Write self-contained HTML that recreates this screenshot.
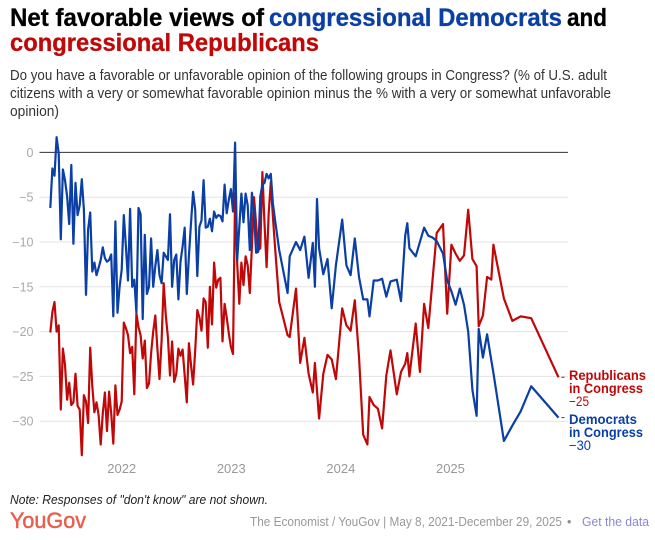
<!DOCTYPE html>
<html lang="en">
<head>
<meta charset="utf-8">
<title>Net favorable views of congressional Democrats and congressional Republicans</title>
<style>
html,body{margin:0;padding:0;background:#fff;width:655px;height:540px;overflow:hidden}
svg{display:block}
text{font-family:"Liberation Sans",sans-serif}
</style>
</head>
<body>
<svg id="chart" xmlns="http://www.w3.org/2000/svg" width="655" height="540" viewBox="0 0 655 540">
  <rect x="0" y="0" width="655" height="540" fill="#ffffff"/>
  <g font-size="25" font-weight="700" stroke-width="0.3">
    <text x="10" y="26" fill="#000" stroke="#000" textLength="254" lengthAdjust="spacingAndGlyphs">Net favorable views of</text>
    <text x="269" y="26" fill="#0a3fa6" stroke="#0a3fa6" textLength="293" lengthAdjust="spacingAndGlyphs">congressional Democrats</text>
    <text x="567" y="26" fill="#000" stroke="#000" textLength="40" lengthAdjust="spacingAndGlyphs">and</text>
    <text x="10" y="51" fill="#c00808" stroke="#c00808" textLength="309" lengthAdjust="spacingAndGlyphs">congressional Republicans</text>
  </g>
  <g font-size="15" fill="#333">
    <text x="10" y="80" textLength="597" lengthAdjust="spacingAndGlyphs">Do you have a favorable or unfavorable opinion of the following groups in Congress? (% of U.S. adult</text>
    <text x="10" y="98" textLength="601" lengthAdjust="spacingAndGlyphs">citizens with a very or somewhat favorable opinion minus the % with a very or somewhat unfavorable</text>
    <text x="10" y="116" textLength="49" lengthAdjust="spacingAndGlyphs">opinion)</text>
  </g>
  <g id="grid"></g>
  <g id="yticks" font-size="12.5" fill="#aaaaaa" text-anchor="end"></g>
  <g id="xticks" font-size="13" fill="#999999" text-anchor="middle"></g>
  <g id="series"></g>
  <g fill="#c00808" font-size="13.5">
    <text x="569" y="380" font-weight="700" textLength="77" lengthAdjust="spacingAndGlyphs">Republicans</text>
    <text x="569" y="393" font-weight="700" textLength="74" lengthAdjust="spacingAndGlyphs">in Congress</text>
    <text x="569" y="406" textLength="20" lengthAdjust="spacingAndGlyphs">−25</text>
  </g>
  <g fill="#0a3fa6" font-size="13.5">
    <text x="569" y="424" font-weight="700" textLength="68" lengthAdjust="spacingAndGlyphs">Democrats</text>
    <text x="569" y="437" font-weight="700" textLength="74" lengthAdjust="spacingAndGlyphs">in Congress</text>
    <text x="569" y="450" textLength="22" lengthAdjust="spacingAndGlyphs">−30</text>
  </g>
  <text x="10" y="504" font-size="12.5" font-style="italic" fill="#222" textLength="258" lengthAdjust="spacingAndGlyphs">Note: Responses of "don't know" are not shown.</text>
  <text x="10" y="528" font-size="22" font-weight="400" stroke="#e8604c" stroke-width="0.5" fill="#e8604c" textLength="76" lengthAdjust="spacingAndGlyphs">YouGov</text>
  <text x="250" y="526" font-size="12.5" fill="#999999" textLength="312" lengthAdjust="spacingAndGlyphs">The Economist / YouGov | May 8, 2021-December 29, 2025</text>
  <text x="567" y="526" font-size="12.5" fill="#8a8aa8">•</text>
  <text x="582" y="526" font-size="12.5" fill="#8b86d6" textLength="67" lengthAdjust="spacingAndGlyphs">Get the data</text>
</svg>
<script>
const yTicks = [0, -5, -10, -15, -20, -25, -30];
const yTickLabels = ["0", "−5", "−10", "−15", "−20", "−25", "−30"];
const xTickYears = [2022, 2023, 2024, 2025];
const surveyWeeks = [
  0,1,2,3,4,5,6,7,8,9,10,11,12,13,14,15,16,17,18,19,
  20,21,22,23,24,25,26,27,28,29,30,31,32,33,34,35,36,37,38,39,
  40,41,42,43,44,45,46,47,48,49,50,51,52,53,54,55,56,57,58,59,
  60,61,62,63,64,65,66,67,68,69,70,71,72,73,74,75,76,77,78,79,
  80,81,82,83,84,85,86,87,88,89,90,91,92,93,94,95,96,97,98,99,
  100,101,102,103,104,105,106,107,
  109,113,114,117,119,121,123,125,126,127,128,130,132,134,136,139,141,143,145,147,
  149,151,152,154,156,158,160,162,165,167,169,170,171,174,176,178,180,182,184,187,
  189,191,193,195,197,199,201,203,204,206,208,210,211,216,220,224,229,242
];
const democrats = [
  -6.2,-1.8,-2.6,1.7,-0.1,-9.7,-1.9,-3.1,-4.9,-8.0,-1.4,-10.2,-3.4,-7.0,-5.9,-3.0,-6.4,-15.9,-8.6,-6.7,
  -13.3,-12.3,-13.7,-12.9,-12.0,-10.6,-11.8,-12.2,-12.0,-11.4,-18.3,-7.7,-17.9,-15.0,-13.1,-7.0,-10.5,-14.3,-6.3,-15.0,
  -14.2,-17.9,-6.2,-6.9,-18.6,-9.2,-15.8,-15.0,-9.6,-15.0,-12.7,-10.9,-13.7,-14.6,-11.2,-11.6,-12.0,-6.9,-15.0,-12.0,
  -11.4,-16.4,-12.2,-10.5,-8.4,-15.8,-11.6,-7.9,-4.4,-6.4,-13.8,-8.3,-7.6,-3.1,-8.4,-8.3,-7.4,-8.8,-6.6,-7.3,
  -7.0,-7.1,-7.7,-3.6,-6.8,-5.3,-4.1,-6.6,1.1,-12.0,-8.3,-4.6,-7.8,-4.6,-5.9,-10.9,-4.5,-6.8,-11.2,-11.1,
  -4.9,-3.6,-3.4,-2.4,-2.9,-2.4,-5.7,-7.5,
  -10.9,-15.7,-11.6,-10.0,-10.9,-9.4,-14.0,-10.1,-15.0,-5.2,-10.7,-13.6,-11.9,-17.4,-12.6,-7.5,-12.6,-13.7,-9.6,-13.9,
  -16.4,-16.4,-18.3,-14.3,-14.3,-14.1,-16.1,-14.4,-14.2,-16.6,-9.3,-7.9,-10.7,-11.6,-10.0,-8.4,-9.3,-9.5,-9.9,-11.3,
  -14.3,-15.5,-17.0,-15.2,-17.0,-20.0,-26.5,-29.4,-19.7,-22.9,-20.3,-23.2,-24.6,-32.2,-30.5,-28.9,-26.1,-29.6
];
const republicans = [
  -20.1,-17.8,-16.7,-20.0,-19.3,-28.7,-21.9,-23.7,-27.6,-25.7,-28.2,-27.9,-24.7,-28.3,-28.7,-33.8,-27.1,-27.8,-30.2,-21.8,
  -26.1,-29.0,-27.9,-29.3,-32.6,-29.1,-26.8,-31.1,-26.7,-29.1,-32.5,-26.0,-29.3,-28.7,-27.8,-19.0,-19.6,-20.4,-22.4,-21.7,
  -27.0,-18.0,-19.5,-20.4,-23.0,-21.0,-26.3,-25.8,-22.4,-20.0,-18.2,-21.9,-25.3,-21.0,-14.6,-18.2,-20.6,-24.9,-21.1,-25.6,
  -24.7,-21.9,-22.7,-22.0,-24.9,-27.9,-21.3,-23.7,-25.9,-22.1,-17.6,-18.4,-19.9,-16.3,-16.7,-21.8,-15.0,-19.2,-12.3,-15.1,
  -14.2,-14.0,-21.1,-16.9,-18.4,-20.2,-21.7,-22.5,-4.5,-12.4,-16.9,-12.3,-14.8,-11.6,-12.6,-15.7,-10.5,-5.0,-8.0,-10.9,
  -10.7,-2.2,-7.9,-12.8,-6.8,-3.3,-7.2,-10.5,
  -16.7,-20.4,-20.6,-15.2,-23.5,-20.7,-24.7,-26.8,-23.5,-26.6,-29.7,-24.7,-22.6,-23.1,-25.3,-17.4,-19.3,-19.9,-16.5,-22.8,
  -31.5,-32.6,-27.3,-28.2,-28.6,-30.8,-24.9,-22.1,-27.0,-24.5,-23.6,-22.4,-25.0,-19.1,-24.5,-16.9,-19.6,-14.3,-9.0,-8.0,
  -18.0,-10.3,-11.3,-12.1,-11.5,-6.4,-11.9,-12.7,-19.4,-18.2,-13.9,-14.2,-10.3,-16.3,-18.8,-18.3,-18.5,-25.1
];

const NS = "http://www.w3.org/2000/svg";
const X0 = 50.3, X_PER_WEEK = 2.1, Y0 = 152.4, Y_PER_UNIT = 8.96;
const GRID_LEFT = 39.5, GRID_RIGHT = 568;
function xScale(week) { return X0 + X_PER_WEEK * week; }
function yScale(value) { return Y0 - Y_PER_UNIT * value; }
function yearToWeek(year) { return 34 + (year - 2022) * 52.18; }
function pathFor(values) {
  return values.map(function (v, i) {
    return (i ? "L" : "M") + xScale(surveyWeeks[i]).toFixed(2) + " " + yScale(v).toFixed(2);
  }).join(" ");
}

const gridG = document.getElementById("grid");
const yG = document.getElementById("yticks");
const xG = document.getElementById("xticks");
const seriesG = document.getElementById("series");

yTicks.slice().reverse().forEach(function (t) {
  const line = document.createElementNS(NS, "line");
  
  
  line.setAttribute("x1", GRID_LEFT);
  line.setAttribute("x2", GRID_RIGHT);
  line.setAttribute("y1", yScale(t));
  line.setAttribute("y2", yScale(t));
  line.setAttribute("stroke", t === 0 ? "#333333" : "#e3e3e3");
  line.setAttribute("stroke-width", "1");
  gridG.appendChild(line);
});

yTicks.forEach(function (t, i) {
  const label = document.createElementNS(NS, "text");
  
  
  label.setAttribute("x", 33.5);
  label.setAttribute("y", yScale(t) + 4.5);
  label.textContent = yTickLabels[i];
  yG.appendChild(label);
});

xTickYears.forEach(function (year) {
  const label = document.createElementNS(NS, "text");
  
  
  label.setAttribute("x", xScale(yearToWeek(year)));
  label.setAttribute("y", 473);
  label.textContent = String(year);
  xG.appendChild(label);
});

const redLine = document.createElementNS(NS, "path");


redLine.setAttribute("d", pathFor(republicans));
redLine.setAttribute("fill", "none");
redLine.setAttribute("stroke", "#c00808");
redLine.setAttribute("stroke-width", "2.2");
redLine.setAttribute("stroke-linejoin", "round");
seriesG.appendChild(redLine);

const blueLine = document.createElementNS(NS, "path");


blueLine.setAttribute("d", pathFor(democrats));
blueLine.setAttribute("fill", "none");
blueLine.setAttribute("stroke", "#0a3fa6");
blueLine.setAttribute("stroke-width", "2.2");
blueLine.setAttribute("stroke-linejoin", "round");
seriesG.appendChild(blueLine);

const redTick = document.createElementNS(NS, "line");


redTick.setAttribute("x1", 561.5);
redTick.setAttribute("x2", 564.5);
redTick.setAttribute("y1", yScale(republicans[republicans.length - 1]));
redTick.setAttribute("y2", yScale(republicans[republicans.length - 1]));
redTick.setAttribute("stroke", "#c00808");
redTick.setAttribute("stroke-width", "1");
seriesG.appendChild(redTick);

const blueTick = document.createElementNS(NS, "line");


blueTick.setAttribute("x1", 561.5);
blueTick.setAttribute("x2", 564.5);
blueTick.setAttribute("y1", yScale(democrats[democrats.length - 1]));
blueTick.setAttribute("y2", yScale(democrats[democrats.length - 1]));
blueTick.setAttribute("stroke", "#0a3fa6");
blueTick.setAttribute("stroke-width", "1");
seriesG.appendChild(blueTick);
</script>
</body>
</html>
